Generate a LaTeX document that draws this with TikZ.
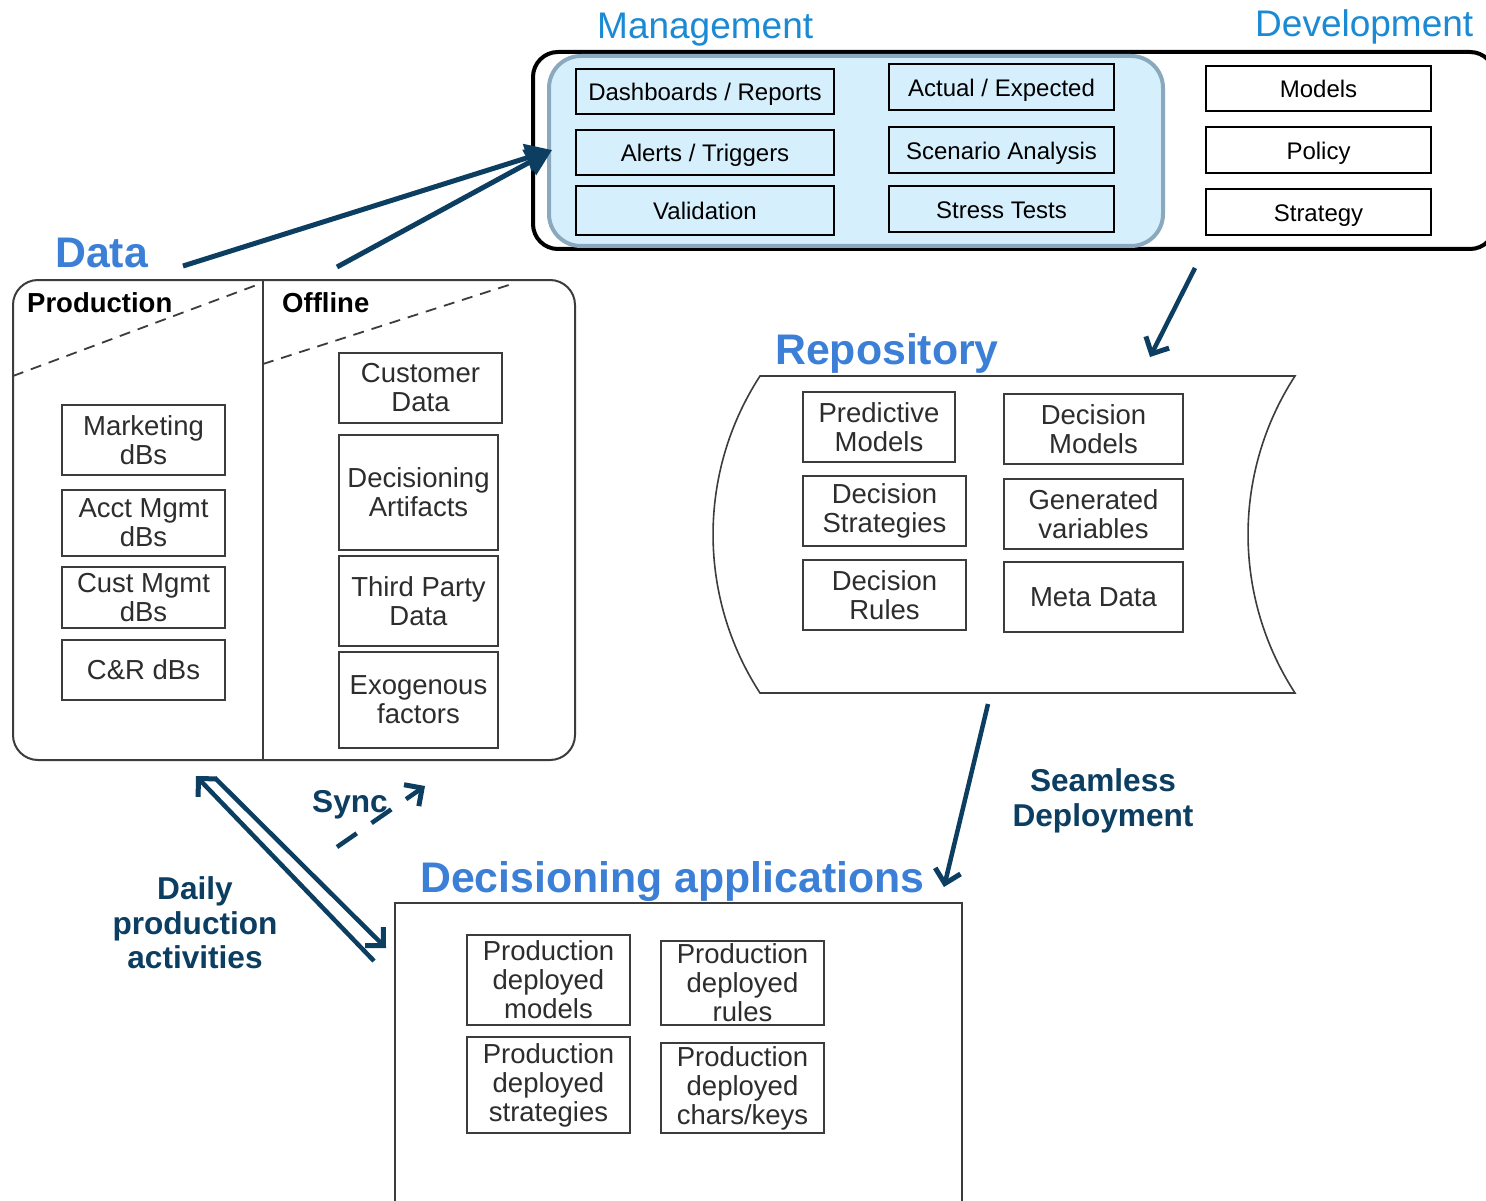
\documentclass[tikz,border=0pt]{standalone}
\usepackage{fontspec}
\setmainfont{Liberation Sans}
\usetikzlibrary{arrows.meta}
\definecolor{navy}{RGB}{12,62,98}
\definecolor{mgblue}{RGB}{26,138,212}
\definecolor{hdblue}{RGB}{60,127,214}
\definecolor{lightfill}{RGB}{214,239,252}
\definecolor{inborder}{RGB}{139,169,190}
\definecolor{boxgray}{RGB}{60,60,60}
\definecolor{txtgray}{RGB}{45,45,45}
\begin{document}
\begin{tikzpicture}[x=1pt,y=-1pt,
  mbox/.style={draw=black, line width=1.6pt, fill=lightfill, inner sep=0pt,
    text height=21pt, text depth=2pt, font=\fontsize{24}{28}\selectfont},
  dbox/.style={draw=black, line width=1.6pt, fill=white, inner sep=0pt,
    text height=21pt, text depth=2pt, font=\fontsize{24}{28}\selectfont},
  gbox/.style={draw=boxgray, line width=2pt, fill=white, inner sep=0pt, align=center,
    text=txtgray, font=\fontsize{27.5}{29}\selectfont},
  bigtitle/.style={text=mgblue, inner sep=0pt, anchor=base west, font=\fontsize{37}{40}\selectfont},
  sectitle/.style={text=hdblue, inner sep=0pt, anchor=base west, font=\fontsize{42.8}{46}\selectfont\bfseries},
  navylabel/.style={text=navy, inner sep=0pt, align=center, font=\fontsize{31.6}{34.5}\selectfont\bfseries},
  hdr/.style={text=black, inner sep=0pt, anchor=base west, font=\fontsize{27.5}{30}\selectfont\bfseries},
  thickarrow/.style={navy, line width=5pt, -{Triangle[length=26pt,width=28pt]}},
  varrow/.style={navy, line width=4.5pt, -{Straight Barb[length=13pt,width=26pt,line width=5pt]}},
]
\useasboundingbox (0,0) rectangle (1486,1201);
\fill[white] (0,0) rectangle (1486,1201);

% ---------- Management / Development ----------
\draw[line width=4pt, rounded corners=25pt] (533,52) rectangle (1495,249);
\draw[line width=4pt, draw=inborder, fill=lightfill, rounded corners=32pt] (549,56) rectangle (1163,246);
\node[bigtitle] (mgt) at (597,39) {Management};
\node[bigtitle] (dev) at (1255,37) {Development};

\node[mbox, minimum width=258pt, minimum height=45pt] (dash) at (705,91.5) {Dashboards / Reports};
\node[mbox, minimum width=258pt, minimum height=45pt] (alert) at (705,152.5) {Alerts / Triggers};
\node[mbox, minimum width=258pt, minimum height=49pt] (valid) at (705,210.5) {Validation};
\node[mbox, minimum width=225pt, minimum height=46pt] (actual) at (1001.5,87) {Actual / Expected};
\node[mbox, minimum width=225pt, minimum height=46pt] (scen) at (1001.5,150) {Scenario Analysis};
\node[mbox, minimum width=225pt, minimum height=46pt] (stress) at (1001.5,209) {Stress Tests};
\node[dbox, minimum width=225pt, minimum height=45pt] (models) at (1318.5,88.5) {Models};
\node[dbox, minimum width=225pt, minimum height=46pt] (policy) at (1318.5,150) {Policy};
\node[dbox, minimum width=225pt, minimum height=46pt] (strat) at (1318.5,212) {Strategy};

% ---------- Data ----------
\node[sectitle] (datat) at (55,267) {Data};
\draw[draw=boxgray, line width=2pt, rounded corners=25pt] (13,280) rectangle (575,760);
\draw[draw=boxgray, line width=2pt] (263,280) -- (263,760);
\draw[draw=boxgray, line width=1.8pt, dash pattern=on 11pt off 8pt] (13,376) -- (262,283);
\draw[draw=boxgray, line width=1.8pt, dash pattern=on 11pt off 8pt] (263,364) -- (515,283);
\node[hdr] (prodh) at (27,312) {Production};
\node[hdr] (offh) at (282,312) {Offline};

\node[gbox, minimum width=163pt, minimum height=70pt] (mkt) at (143.5,440) {Marketing\\dBs};
\node[gbox, minimum width=163pt, minimum height=66pt] (acct) at (143.5,523) {Acct Mgmt\\dBs};
\node[gbox, minimum width=163pt, minimum height=61pt] (cust) at (143.5,597.5) {Cust Mgmt\\dBs};
\node[gbox, minimum width=163pt, minimum height=60pt] (cr) at (143.5,670) {C\&R dBs};
\node[gbox, minimum width=163pt, minimum height=70pt] (custd) at (420.5,388) {Customer\\Data};
\node[gbox, minimum width=159pt, minimum height=115pt] (artf) at (418.5,492.5) {Decisioning\\Artifacts};
\node[gbox, minimum width=159pt, minimum height=90pt] (third) at (418.5,601) {Third Party\\Data};
\node[gbox, minimum width=159pt, minimum height=96pt] (exo) at (418.5,700) {Exogenous\\factors};

% ---------- Repository ----------
\node[sectitle] (repot) at (775,364) {Repository};
\draw[draw=boxgray, line width=1.6pt]
  (760,376) -- (1295,376)
  .. controls (1232.4,472.4) and (1232.4,596.6) .. (1295,693)
  -- (760,693)
  .. controls (697.4,596.6) and (697.4,472.4) .. (760,376) -- cycle;
\node[gbox, minimum width=152pt, minimum height=70pt] (pred) at (879,427) {Predictive\\Models};
\node[gbox, minimum width=179pt, minimum height=70pt] (dmod) at (1093.5,429) {Decision\\Models};
\node[gbox, minimum width=163pt, minimum height=70pt] (dstr) at (884.5,511) {Decision\\Strategies};
\node[gbox, minimum width=179pt, minimum height=70pt] (gen) at (1093.5,514) {Generated\\variables};
\node[gbox, minimum width=163pt, minimum height=70pt] (drul) at (884.5,595) {Decision\\Rules};
\node[gbox, minimum width=179pt, minimum height=70pt] (meta) at (1093.5,597) {Meta Data};

% ---------- Decisioning applications ----------
\node[sectitle] (dect) at (420,892) {Decisioning applications};
\draw[draw=boxgray, line width=2pt] (395,1215) -- (395,903) -- (962,903) -- (962,1215);
\node[gbox, minimum width=163pt, minimum height=90pt] (pdm) at (548.5,980) {Production\\deployed\\models};
\node[gbox, minimum width=163pt, minimum height=84pt] (pdr) at (742.5,983) {Production\\deployed\\rules};
\node[gbox, minimum width=163pt, minimum height=96pt] (pds) at (548.5,1085) {Production\\deployed\\strategies};
\node[gbox, minimum width=163pt, minimum height=90pt] (pdc) at (742.5,1088) {Production\\deployed\\chars/keys};

% ---------- labels ----------
\node[navylabel] (seam) at (1103,801) {Seamless\\Deployment};
\node[navylabel] (daily) at (195,923) {Daily\\production\\activities};
\node[navylabel, anchor=base west] (sync) at (312,812) {Sync};

% ---------- connectors ----------
\coordinate (a1s) at (183,266);
\coordinate (a2s) at (337,267);
\coordinate (mgin) at (552,150);
\draw[thickarrow] (a1s) -- (mgin);
\draw[thickarrow] (a2s) -- (mgin);

\coordinate (r1s) at (1195,268);
\coordinate (r1e) at (1150,357);
\draw[varrow] (r1s) -- (r1e);

\coordinate (s1s) at (988,704);
\coordinate (s1e) at (944,887);
\draw[varrow] (s1s) -- (s1e);

\coordinate (d1s) at (374,961);
\coordinate (d1e) at (196,776);
\coordinate (d2s) at (215,778);
\coordinate (d2e) at (386,948);
\draw[varrow] (d1s) -- (d1e);
\draw[varrow] (d2s) -- (d2e);

\coordinate (sy1) at (337,847);
\coordinate (sy2) at (425,786);
\draw[varrow, dash pattern=on 24pt off 18pt] (sy1) -- (sy2);
\end{tikzpicture}
\end{document}
